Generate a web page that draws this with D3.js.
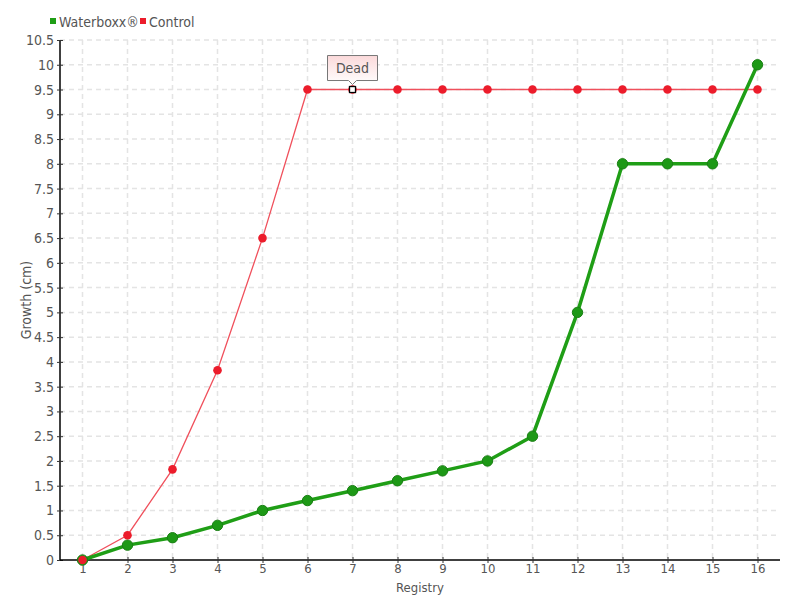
<!DOCTYPE html>
<html><head><meta charset="utf-8">
<script src="https://cdnjs.cloudflare.com/ajax/libs/d3/7.8.5/d3.min.js"></script>
<style>body{margin:0;background:#fff}svg{display:block}text{font-family:"DejaVu Sans Condensed","Liberation Sans Narrow",sans-serif}</style>
</head><body><svg id="c" width="800" height="600"></svg>
<script>
const registry = [1,2,3,4,5,6,7,8,9,10,11,12,13,14,15,16];
const waterboxx = [0,0.3,0.45,0.7,1.0,1.2,1.4,1.6,1.8,2.0,2.5,5,8,8,8,10];
const control = [0,0.5,1.83,3.83,6.5,9.5,9.5,9.5,9.5,9.5,9.5,9.5,9.5,9.5,9.5,9.5];
const yTicks = d3.range(0,10.51,0.5);
const seriesNames = ["Waterboxx®","Control"];
const tooltipIndex = 6, tooltipText = "Dead";

const svg = d3.select("#c");
const W=800,H=600, m={l:60,r:20,t:40,b:40};
const x = d3.scaleLinear().domain([0.5,16.5]).range([m.l,W-m.r]);
const y = d3.scaleLinear().domain([0,10.5]).range([H-m.b,m.t]);
const green="#1f9e16", greenDark="#1a7f14", red="#ec1c2b";

const defs = svg.append("defs");
const gr = defs.append("linearGradient").attr("id","tg").attr("x1",0).attr("y1",0).attr("x2",0).attr("y2",1);
gr.append("stop").attr("offset","0%").attr("stop-color","#fbd9da");
gr.append("stop").attr("offset","100%").attr("stop-color","#ffffff");

// grid
const g = svg.append("g");
g.selectAll(".hg").data(yTicks.slice(1)).join("line")
 .attr("x1",m.l).attr("x2",W-m.r).attr("y1",d=>y(d)).attr("y2",d=>y(d))
 .attr("stroke","#e4e4e4").attr("stroke-width",1.5).attr("stroke-dasharray","5,4");
g.selectAll(".vg").data(registry).join("line")
 .attr("x1",d=>x(d)).attr("x2",d=>x(d)).attr("y1",m.t).attr("y2",H-m.b)
 .attr("stroke","#e4e4e4").attr("stroke-width",1.5).attr("stroke-dasharray","5,4");

// axes
const ya = svg.append("g").attr("transform",`translate(${m.l},0)`)
 .call(d3.axisLeft(y).tickValues(yTicks).tickFormat(d=>String(d)).tickSize(3).tickPadding(3));
const xa = svg.append("g").attr("transform",`translate(0,${H-m.b})`)
 .call(d3.axisBottom(x).tickValues(registry).tickFormat(d=>String(d)).tickSize(3).tickPadding(1));
[ya,xa].forEach(a=>{
  a.select(".domain").attr("stroke","#000").attr("stroke-width",1.5);
  a.selectAll(".tick line").attr("stroke","#333");
  a.selectAll(".tick text").attr("fill","#555").style("font-size","14px");
});
xa.selectAll(".tick text").style("font-size","13px");
ya.selectAll(".tick line").attr("x2",-3).attr("x1",3);
xa.selectAll(".tick line").attr("y1",-3).attr("y2",3);
ya.select(".domain").attr("d",`M0,${H-m.b}V${m.t}`);
xa.select(".domain").attr("d",`M${m.l},0H${W-m.r}`);

svg.append("text").attr("transform",`translate(31,${(m.t+H-m.b)/2}) rotate(-90)`)
 .attr("text-anchor","middle").attr("fill","#555").style("font-size","14px").text("Growth (cm)");
svg.append("text").attr("x",(m.l+W-m.r)/2).attr("y",592).attr("text-anchor","middle")
 .attr("fill","#555").style("font-size","13px").text("Registry");

// lines
const line = d3.line().x((d,i)=>x(registry[i])).y(d=>y(d));
svg.append("path").datum(control).attr("d",line).attr("fill","none").attr("stroke","#f0505c").attr("stroke-width",1.3);
svg.append("path").datum(waterboxx).attr("d",line).attr("fill","none").attr("stroke",green).attr("stroke-width",3.5);
svg.selectAll(".gp").data(waterboxx).join("circle")
 .attr("cx",(d,i)=>x(registry[i])).attr("cy",d=>y(d)).attr("r",5.2)
 .attr("fill","#1d9916").attr("stroke",greenDark).attr("stroke-width",1);
svg.selectAll(".rp").data(control).join("circle")
 .attr("cx",(d,i)=>x(registry[i])).attr("cy",d=>y(d)).attr("r",4.3)
 .attr("fill",red);

// highlighted point
const hx=x(registry[tooltipIndex]), hy=y(control[tooltipIndex]);
svg.append("rect").attr("x",hx-3).attr("y",hy-3).attr("width",6).attr("height",6)
 .attr("fill","#fff").attr("stroke","#000").attr("stroke-width",1.3);
// tooltip
const tw=50, th=25, ty=hy-9;
svg.append("path").attr("d",`M${hx-tw/2},${ty-th}H${hx+tw/2}V${ty}H${hx+4}L${hx},${ty+4}L${hx-4},${ty}H${hx-tw/2}Z`)
 .attr("fill","url(#tg)").attr("stroke","#777").attr("stroke-width",1);
svg.append("text").attr("x",hx).attr("y",ty-th/2+5).attr("text-anchor","middle")
 .attr("fill","#555").style("font-size","14px").text(tooltipText);

// legend
const lg = svg.append("g");
const lx=[50,140], cols=[green,red];
seriesNames.forEach((n,i)=>{
  lg.append("rect").attr("x",lx[i]).attr("y",18).attr("width",6).attr("height",6).attr("fill",cols[i]);
  lg.append("text").attr("x",lx[i]+9).attr("y",27).attr("fill","#555").style("font-size","14px").text(n);
});
</script></body></html>
